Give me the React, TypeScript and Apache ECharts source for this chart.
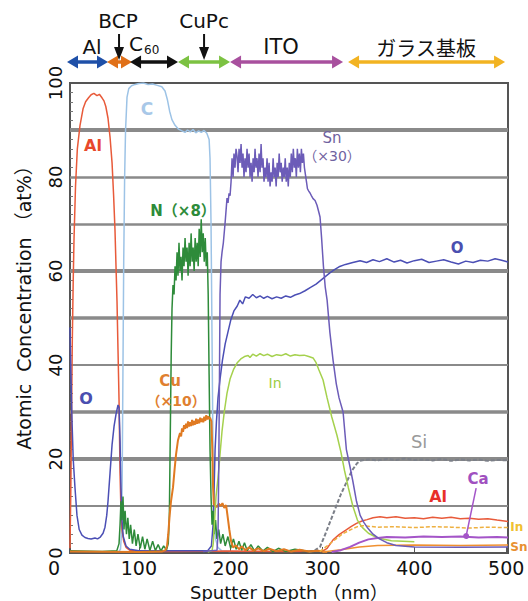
import React, { useEffect, useRef } from "react";
import * as echarts from "echarts";

// ---- axis ticks ----
const depthTicks = [100, 200, 300, 400, 500];
const depthMin = 25;
const depthMax = 502;
const concMin = 0;
const concMax = 100;
const gridLevels = [10, 20, 30, 40, 50, 60, 70, 80, 90];
const gridWeights = [2, 4, 3.5, 2, 3.5, 4, 2.5, 2.5, 4];

// ---- layers (depth, nm) ----
const layerNames = ["Al", "BCP", "C60", "CuPc", "ITO", "ガラス基板"];
const layerStart = [21.7, 65.3, 90.4, 142.6, 199.3, 327.8];
const layerEnd = [66.4, 92.5, 142.6, 199.3, 322.4, 498.8];
const layerLabelAt = [49.0, 77.3, 98.0, 171.0, 254.8, 412.8];
const downArrowAt = [78.4, 171.0];

// ---- series [depth nm, at%] ----
const alData = [
  [25, 1], [25.8, 12], [26.6, 28], [27.5, 45], [28.5, 58], [29.4, 67], [31, 78], [33, 86], [35.9, 91],
  [39.2, 94.5], [42, 96], [45, 96.8], [48, 97.5], [51, 97.8], [54.4, 97.3], [57, 97.6], [60, 96.8],
  [62, 96.2], [64, 95], [66.4, 92.5], [68.6, 88.5], [70.8, 83], [72.5, 76], [74, 68.7], [75.1, 61],
  [76.2, 53.5], [77.3, 43], [78.4, 32.6], [79.5, 17], [80.5, 9], [81.6, 5], [83.5, 2.5], [86, 1.2],
  [90, 0.6], [100, 0.3], [140, 0.3], [200, 0.4], [260, 0.3], [300, 0.4], [305, 1], [311.5, 2.8],
  [318, 3.9], [325, 4.8], [331, 5.6], [337, 6.3], [343, 6.8], [348.5, 7.1], [355, 7.5], [362.7, 7.7],
  [370, 7.5], [380, 7.7], [390, 7.4], [400, 7.5], [410, 7.3], [420, 7.6], [430, 7.4], [440, 7.6],
  [450, 7.3], [460, 7.4], [470, 7.2], [480, 7.3], [490, 7.0], [502, 6.7],
];
const oData = [
  [25, 48], [26, 38], [27.2, 28], [28.5, 20], [30.4, 14], [32.6, 8], [35, 5], [38, 3.8], [41.3, 3.3],
  [44.6, 3.1], [48, 3.0], [52.2, 3.2], [55, 3.0], [58, 3.4], [61, 4.2], [63.1, 5.5], [65, 8], [66.4, 11],
  [68.6, 17], [70.8, 23], [73, 27], [75.1, 29.5], [77.3, 31.5], [78.4, 31], [79.5, 24], [80.5, 14],
  [81.6, 7], [83, 3.5], [86, 1.5], [90, 0.8], [100, 0.5], [140, 0.5], [175, 0.5], [179, 1.5], [180.8, 6],
  [182, 14], [183, 22], [184.5, 28], [186.2, 33], [188.4, 37], [191, 41], [194, 44.5], [197, 47],
  [200, 49.5], [203.5, 51.5], [207, 52.5], [210, 53.8], [213, 53], [216, 54.5], [220, 54.2], [224, 55],
  [228, 54.3], [232, 54.7], [236, 54.2], [240, 54.6], [245, 54.1], [250, 54.5], [255, 54.2], [260, 54.7],
  [265, 54.4], [270, 54.9], [275, 55.2], [281, 55.8], [287, 56.5], [293, 57.2], [298, 58], [303, 58.8],
  [308, 59.6], [313, 60.3], [318, 60.9], [325, 61.4], [333, 61.8], [341, 62.2], [348, 61.8], [355, 62.4],
  [362, 62.0], [370, 62.6], [378, 61.9], [385, 62.3], [392, 61.7], [400, 62.2], [408, 62.5], [416, 61.8],
  [424, 62.1], [432, 62.4], [440, 61.9], [448, 61.5], [456, 62.1], [464, 61.8], [472, 62.3], [480, 62.1],
  [488, 62.6], [495, 62.3], [502, 61.9],
];
const cData = [
  [78, 0.3], [80, 0.8], [81, 4], [81.8, 15], [82.7, 40], [83.5, 62], [84.5, 80], [85.5, 90], [87.1, 97],
  [89, 98.8], [92, 99.4], [96, 99.7], [100, 99.9], [105, 100], [110, 99.7], [115, 99.8], [120, 99.5],
  [125, 99.2], [128.5, 98.3], [131, 96.5], [133.5, 94], [136, 92.2], [139.4, 91], [143, 90.2], [147, 89.8],
  [150.3, 89.5], [153, 90], [156, 89.6], [159, 90.1], [162, 89.4], [165, 89.8], [168, 89.5], [171, 89.9],
  [174, 89.3], [176.5, 88], [177.5, 84], [178.6, 70], [179.7, 45], [180.8, 20], [182, 8], [183.5, 3],
  [186, 1.2], [190, 0.5], [200, 0.3],
];
const nData = [
  [25, 0.5], [60, 0.3], [76, 0.5], [78.4, 2], [79.5, 6], [80.5, 11], [81.6, 7], [82.7, 12], [83.8, 5],
  [85, 9], [86.5, 4], [88, 7.5], [89.5, 3], [91, 6], [93, 2], [95, 5], [97, 1.5], [99, 4], [101.5, 1],
  [104, 3.5], [106.5, 0.8], [109, 3], [112, 0.5], [115, 2.5], [118, 0.5], [121, 1.8], [124, 0.4],
  [127, 1.5], [130, 0.6], [132, 2], [133.2, 8], [134.2, 25], [135.2, 42], [136.1, 52], [137.2, 57],
  [138.3, 55], [139.4, 61], [140.5, 58], [141.6, 64], [142.6, 59], [143.7, 66], [144.8, 60], [145.9, 63],
  [147, 58], [148.1, 65], [149.2, 61], [150.3, 67], [151.4, 62], [152.5, 65], [153.6, 59], [154.7, 66],
  [155.8, 61], [156.9, 68], [158, 62], [159.1, 65], [160.2, 60], [161.3, 67], [162.4, 62], [163.5, 66],
  [164.6, 61], [165.7, 69], [166.8, 63], [167.9, 71], [169, 64], [170.1, 68], [171.2, 62], [172.3, 67],
  [173.4, 61], [174.5, 64], [175.5, 55], [176.5, 38], [177.5, 22], [178.6, 12], [179.7, 6], [180.8, 9],
  [182, 4], [183.5, 7], [185, 3], [187, 5], [189, 2], [191.5, 4], [194, 1.5], [197, 3.5], [200, 1],
  [203, 3], [206, 0.8], [209, 2.5], [212, 0.6], [215, 2.2], [218, 0.5], [222, 1.8], [226, 0.4],
  [230, 1.5], [235, 0.4], [240, 1.2], [246, 0.3], [252, 1], [260, 0.3], [270, 0.8], [285, 0.3], [300, 0.5],
];
const cuData = [
  [25, 0.3], [100, 0.2], [125, 0.3], [129, 0.6], [130.7, 1.5], [132, 4], [133.5, 8], [135, 11],
  [137.2, 14], [139, 18], [140.5, 21], [142.6, 24], [144.8, 25.5], [146, 24.8], [147, 26.5], [148.1, 25.8],
  [149.2, 27.2], [150.3, 26.4], [151.4, 27.5], [152.5, 26.6], [153.6, 28], [154.7, 26.9], [155.8, 27.8],
  [156.9, 27], [158, 28.3], [159.1, 27.2], [160.2, 28.1], [161.3, 27.3], [162.4, 28.6], [163.5, 27.5],
  [164.6, 28.4], [165.7, 27.6], [166.8, 28.8], [167.9, 27.9], [169, 28.6], [170.1, 27.8], [171.2, 29],
  [172.3, 28.1], [173.4, 29.3], [174.5, 28.4], [175.6, 29.1], [176.6, 28.5], [177.5, 28.8], [179, 28],
  [180, 22], [180.8, 14], [181.6, 10.5], [183, 10], [185, 9.8], [187, 10.5], [189, 10], [191, 10.6],
  [193, 9.6], [195, 10.2], [196.5, 8], [198.5, 5], [200.4, 2.5], [202.6, 1.2], [206, 1.6], [209, 0.8],
  [212, 1.4], [216, 0.6], [220, 1.2], [225, 0.5], [230, 1], [236, 0.4], [242, 0.9], [250, 0.4],
  [258, 0.8], [266, 0.3], [275, 0.7], [285, 0.3], [295, 0.5], [305, 0.2],
];
const inData = [
  [175, 0.2], [179.7, 0.5], [181, 2], [182.5, 7], [184, 12], [186.2, 16], [188.4, 21], [190.6, 26],
  [193, 30], [196, 34], [199.3, 37], [203, 39], [206.9, 40.4], [211, 41.3], [215, 41.8], [219, 42],
  [221, 41.6], [224, 42.3], [228, 41.9], [232, 42.4], [236, 42], [240, 42.3], [245, 41.8], [250, 42.2],
  [255, 42], [260, 42.4], [265, 41.9], [270, 42.2], [275, 42], [280, 42.1], [285, 41.8], [289.7, 41.5],
  [293, 40.5], [296, 39], [300.6, 36.8], [305, 33], [310, 29], [315.8, 25], [320, 21.5], [324, 17.5],
  [328, 14], [333, 10], [338, 7], [343, 5.5], [350, 4.2], [360, 3.2], [375, 2.6], [400, 2.4],
];
const inGlassData = [
  [297, 0.3], [305, 1.5], [314, 2.9], [322, 4.1], [331, 5.0], [338, 5.6], [344, 5.8], [360, 5.5],
  [380, 5.6], [400, 5.4], [420, 5.6], [440, 5.5], [460, 5.3], [480, 5.5], [502, 5.4],
];
const snData = [
  [170, 0.3], [185.1, 0.6], [186.2, 4], [187, 18], [187.8, 38], [188.4, 55], [189.5, 62], [190.6, 64],
  [192, 66], [193.8, 70], [195, 73], [196, 75.5], [197.1, 74.5], [198.2, 76.5], [199.3, 76], [200.4, 79],
  [201.5, 84], [202.6, 80], [203.6, 85], [204.7, 82], [205.8, 86], [206.9, 84.5], [208, 81], [209.1, 86],
  [210.2, 83], [211.3, 87], [212.4, 82], [213.4, 85], [214.5, 80], [215.6, 84], [216.7, 81], [217.8, 86],
  [218.9, 82], [220, 85], [221.1, 80], [222.2, 83], [223.3, 79], [224.4, 84], [225.5, 81], [226.5, 86],
  [227.6, 82], [228.7, 84], [229.8, 80], [230.9, 85], [232, 81], [233.1, 87], [234.1, 82], [235.2, 84],
  [236.3, 79], [237.4, 82], [238.5, 80], [239.6, 84], [240.7, 79], [241.8, 83], [242.9, 78], [244, 81],
  [245.1, 79], [246.2, 84], [247.3, 80], [248.4, 82], [249.5, 78], [250.6, 83], [251.7, 80], [252.8, 85],
  [253.9, 81], [255, 83], [256.1, 79], [257.2, 82], [258.3, 80], [259.4, 84], [260.5, 79], [261.6, 82],
  [262.7, 78], [263.8, 83], [264.9, 80], [266, 85], [267.1, 81], [268.2, 86], [269.3, 82], [270.4, 84],
  [271.5, 80], [272.6, 86], [273.7, 82], [274.8, 85], [275.9, 81], [277, 86], [278.1, 83], [279.2, 85],
  [280.3, 82], [281.4, 80.5], [282.5, 79], [283.6, 77.5], [285, 77], [286.4, 76.6], [288, 76],
  [289.7, 75.4], [291.9, 75], [294, 74], [296, 72.5], [297.3, 71.5], [299, 67], [301, 61], [303, 56.5],
  [305, 53.8], [308, 47], [311.5, 41], [315, 36], [318, 33], [322.4, 30], [326, 22], [330, 18.3],
  [333.3, 15], [337, 11], [341, 8], [345, 6.5], [348.5, 5.5], [355, 4], [362, 3], [370, 2.2], [380, 1.6],
  [400, 1.3], [450, 1.2], [502, 1.3],
];
const siData = [
  [285, 0.2], [292, 0.6], [297.3, 1.3], [302, 3.5], [308, 6.5], [314, 9.5], [320, 12.5], [326, 15],
  [332, 17.5], [337.6, 19.1], [342, 19.7], [350, 19.9], [360, 19.7], [370, 20], [380, 19.8], [390, 20.1],
  [400, 19.8], [410, 19.9], [420, 19.7], [430, 20], [440, 19.6], [450, 19.9], [460, 19.7], [470, 19.9],
  [480, 19.6], [490, 19.8], [502, 19.7],
];
const caData = [
  [310, 0.2], [320, 0.6], [330, 1.3], [340, 2.2], [350, 2.9], [360, 3.2], [370, 3.4], [390, 3.3],
  [410, 3.5], [430, 3.4], [450, 3.5], [470, 3.3], [490, 3.4], [502, 3.3],
];
const snGlassData = [
  [300, 0.2], [320, 0.7], [340, 1.3], [360, 1.6], [400, 1.7], [450, 1.6], [502, 1.7],
];

// ---- annotations [text, depth, at%] ----
const notes = [
  { t: "Al", d: 50.1, v: 86.8, c: "#e8492b", s: 16, w: "bold" },
  { t: "C", d: 108.9, v: 94.5, c: "#a8c8e8", s: 17, w: "bold" },
  { t: "N（×8）", d: 148.1, v: 72.8, c: "#2e8b3a", s: 15, w: "bold" },
  { t: "Sn", d: 310.4, v: 88.3, c: "#6f62a0", s: 15, w: "normal" },
  { t: "（×30）", d: 310.4, v: 84.5, c: "#6f62a0", s: 14, w: "normal" },
  { t: "O", d: 42.4, v: 32.8, c: "#4a4fb0", s: 16, w: "bold" },
  { t: "Cu", d: 133.9, v: 36.6, c: "#e08030", s: 15, w: "bold" },
  { t: "（×10）", d: 140.5, v: 32.3, c: "#e08030", s: 14, w: "bold" },
  { t: "In", d: 248.3, v: 36.2, c: "#9ccc44", s: 14, w: "normal" },
  { t: "O", d: 446.6, v: 64.9, c: "#4a4fb0", s: 15, w: "bold" },
  { t: "Si", d: 405.2, v: 23.8, c: "#9a9a9a", s: 18, w: "normal" },
  { t: "Al", d: 425.9, v: 12.1, c: "#e8302a", s: 16, w: "bold" },
  { t: "Ca", d: 469.4, v: 15.7, c: "#a050c0", s: 15, w: "bold" },
];
const edgeNotes = [
  { t: "In", d: 504.5, v: 5.6, c: "#f0c030" },
  { t: "Sn", d: 504.5, v: 1.3, c: "#e89030" },
];
const caLeader = [[467.3, 13.8], [456.4, 3.6]];

const FONT = '"DejaVu Sans", "Noto Sans CJK JP", sans-serif';
const JP = '"Noto Sans CJK JP", "DejaVu Sans", sans-serif';

function line(name: string, data: number[][], color: string, width = 1.5, extra: any = {}) {
  return {
    name,
    type: "line",
    data,
    showSymbol: false,
    symbol: "none",
    silent: true,
    z: 3,
    lineStyle: { color, width, ...(extra.lineStyle || {}) },
  };
}

function txt(x: number, y: number, text: string, fill: string, size: number, weight = "normal", family = FONT, align = "center") {
  return {
    type: "text",
    x,
    y,
    silent: true,
    z: 50,
    style: {
      text,
      fill,
      fontSize: size,
      fontWeight: weight,
      fontFamily: family,
      align,
      verticalAlign: "middle",
      textAlign: align,
      textVerticalAlign: "middle",
    },
  };
}

export default function App() {
  const ref = useRef<HTMLDivElement>(null);
  useEffect(() => {
    if (!ref.current) return;
    const chart = echarts.init(ref.current, null, { renderer: "svg" });
    const option: any = {
      animation: false,
      backgroundColor: "#ffffff",
      grid: {
        left: 70,
        right: 20,
        top: 83,
        bottom: 48,
        show: true,
        borderColor: "#555",
        borderWidth: 2,
        backgroundColor: "#ffffff",
      },
      xAxis: {
        type: "value",
        min: depthMin,
        max: depthMax,
        axisLine: { show: false },
        splitLine: { show: false },
        axisTick: { show: true, inside: true, length: 6, customValues: depthTicks, lineStyle: { color: "#555" } },
        axisLabel: {
          customValues: depthTicks,
          fontSize: 19,
          fontFamily: FONT,
          color: "#111",
          margin: 5,
        },
      },
      yAxis: {
        type: "value",
        min: concMin,
        max: concMax,
        interval: 20,
        axisLine: { show: false },
        splitLine: { show: false },
        axisTick: { show: true, inside: true, length: 6, lineStyle: { color: "#555" } },
        minorTick: { show: true, splitNumber: 10, length: 3, lineStyle: { color: "#777" } },
        axisLabel: {
          rotate: 90,
          fontSize: 18,
          fontFamily: FONT,
          color: "#111",
          margin: 6,
        },
      },
      series: [
        {
          name: "grid",
          type: "line",
          data: [[depthMin, 0]],
          showSymbol: false,
          symbol: "none",
          silent: true,
          z: 1,
          lineStyle: { opacity: 0 },
          markLine: {
            silent: true,
            symbol: "none",
            z: 1,
            animation: false,
            label: { show: false },
            data: gridLevels.map((v, i) => ({
              yAxis: v,
              lineStyle: { color: "#8a8a8a", width: gridWeights[i], type: "solid" },
            })),
          },
        },
        line("Si", siData, "#7b7f88", 2, { lineStyle: { type: [4, 2] } }),
        line("C", cData, "#9dc3e6", 1.5),
        line("Al", alData, "#e85a3a", 1.5),
        line("O", oData, "#4b4fb5", 1.5),
        line("N (×8)", nData, "#2e8b3a", 1.5),
        line("Cu (×10)", cuData, "#e07a22", 2),
        line("In", inData, "#a5d14d", 1.5),
        line("In glass", inGlassData, "#eeb040", 1.5, { lineStyle: { type: [4, 2] } }),
        line("Sn glass", snGlassData, "#f09030", 1.5),
        {
          ...line("Ca", caData, "#a455c8", 2),
          markLine: {
            silent: true,
            symbol: ["none", "circle"],
            symbolSize: 6,
            animation: false,
            label: { show: false },
            lineStyle: { color: "#a455c8", width: 1.5, type: "solid" },
            data: [[{ coord: caLeader[0] }, { coord: caLeader[1] }]],
          },
        },
        line("Sn (×30)", snData, "#6c5cb8", 1.5),
      ],
    };
    chart.setOption(option);

    const px = (d: number) => chart.convertToPixel({ xAxisIndex: 0 }, d) as number;
    const pt = (d: number, v: number) => chart.convertToPixel({ gridIndex: 0 }, [d, v]) as number[];
    const layerColors = ["#1f50a8", "#e07018", "#111111", "#7cc242", "#a8509e", "#f2b322"];
    const els: any[] = [];
    const arrowY = 62;
    layerNames.forEach((_, i) => {
      const x1 = px(layerStart[i]);
      const x2 = px(layerEnd[i]);
      const c = layerColors[i];
      const h = 11;
      const w = 6.5;
      els.push({ type: "line", silent: true, shape: { x1: x1 + h - 1, y1: arrowY, x2: x2 - h + 1, y2: arrowY }, style: { stroke: c, lineWidth: 3.5 } });
      els.push({ type: "polygon", silent: true, shape: { points: [[x1, arrowY], [x1 + h, arrowY - w], [x1 + h, arrowY + w]] }, style: { fill: c } });
      els.push({ type: "polygon", silent: true, shape: { points: [[x2, arrowY], [x2 - h, arrowY - w], [x2 - h, arrowY + w]] }, style: { fill: c } });
    });
    downArrowAt.forEach((d) => {
      const x = px(d);
      els.push({ type: "line", silent: true, shape: { x1: x, y1: 34, x2: x, y2: 50 }, style: { stroke: "#111", lineWidth: 2 } });
      els.push({ type: "polygon", silent: true, shape: { points: [[x, 60], [x - 5, 47], [x + 5, 47]] }, style: { fill: "#111" } });
    });
    els.push(txt(px(layerLabelAt[0]), 47, "Al", "#111", 20));
    els.push(txt(px(layerLabelAt[1]), 21, "BCP", "#111", 20));
    els.push(txt(px(layerLabelAt[2]) - 8, 44, "C", "#111", 20, "normal", FONT, "left"));
    els.push(txt(px(layerLabelAt[2]) + 7, 50, "60", "#111", 12, "normal", FONT, "left"));
    els.push(txt(px(layerLabelAt[3]), 21, "CuPc", "#111", 20));
    els.push(txt(px(layerLabelAt[4]), 47, "ITO", "#111", 21));
    els.push(txt(px(layerLabelAt[5]), 47, "ガラス基板", "#111", 20, "normal", JP));

    notes.forEach((n) => {
      const p = pt(n.d, n.v);
      els.push(txt(p[0], p[1], n.t, n.c, n.s, n.w));
    });
    edgeNotes.forEach((n) => {
      const p = pt(n.d, n.v);
      els.push(txt(p[0], p[1], n.t, n.c, 12, "bold", FONT, "left"));
    });

    els.push(txt(54, 568, "0", "#111", 19));
    els.push(txt(289, 592, "Sputter Depth （nm）", "#111", 18));
    els.push({
      ...txt(24, 303, "Atomic  Concentration （at%）", "#111", 19),
      rotation: Math.PI / 2,
    });

    chart.setOption({ graphic: { elements: els } });

    return () => chart.dispose();
  }, []);
  return <div ref={ref} style={{ position: "fixed", left: 0, top: 0, width: 528, height: 601 }} />;
}
